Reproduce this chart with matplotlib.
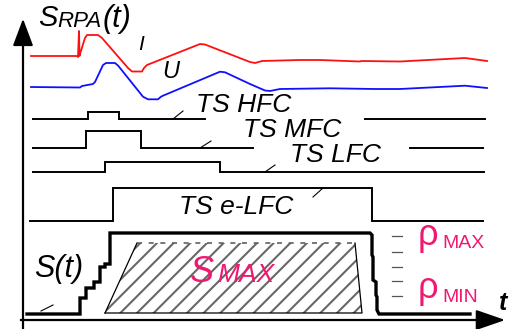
import matplotlib
matplotlib.use('Agg')
import matplotlib.pyplot as plt
from matplotlib.patches import Polygon

plt.rcParams['font.family'] = ['Liberation Sans', 'DejaVu Sans']
plt.rcParams['hatch.linewidth'] = 1.5

# schematic drawn in pixel units of the 518 x 329 picture
W, H = 518, 329

# current I and voltage U curves
i_x = [31, 77, 78, 79, 79.5, 80, 85, 87, 98, 102, 128, 132, 142, 144, 147, 200, 205,
       250, 255, 262, 300, 320, 360, 361, 400, 465, 487]
i_y = [56, 56, 57, 31, 56, 54, 38, 35, 35, 38, 68, 71.5, 71.5, 68, 65, 44, 44.5,
       62, 63, 61, 60, 60, 61.5, 61, 61.5, 58, 61]
u_x = [31, 80, 82, 93, 95, 103, 106, 115, 118, 143, 148, 158, 161, 163, 220, 225,
       250, 265, 270, 280, 330, 375, 400, 465, 487]
u_y = [87, 87.5, 86, 84, 82, 65, 63, 63, 65.5, 96.7, 99.3, 99.3, 96.7, 95.7, 71.7, 72.3,
       84, 90.5, 91, 89, 88.3, 89, 89, 85.7, 88]

# time slots: start, rise, fall, end of the left piece; low / high level; right piece
hfc_edges = [33, 88, 119, 205]
hfc_levels = [119, 112]
hfc_tail = [365, 485]
mfc_edges = [33, 86, 141, 253]
mfc_levels = [148, 131]
mfc_tail = [410, 483]
lfc_edges = [33, 105, 220, 484]
lfc_levels = [172, 162]
elfc_edges = [30, 113, 372, 483]
elfc_levels = [221, 188]

# S(t) staircase
st_x = [27, 80, 80, 86, 86, 94, 94, 100, 100, 105, 105, 110, 110, 370, 372, 372,
        373, 373, 376, 376, 377, 377, 379, 470]
st_y = [314, 314, 298, 298, 288, 288, 282, 282, 267, 267, 264, 264, 233, 233, 235, 255,
        257, 280, 282, 295, 297, 310, 314, 314]

# S_MAX trapezoid
smax_x = [105, 137, 355, 362]
smax_y = [313, 243, 243, 313]

# rho level ticks
rho_ticks = [236, 252, 267, 281, 296]

pink = '#F01870'

fig = plt.figure(figsize=(W / 100, H / 100), dpi=100)
ax = fig.add_axes([0, 0, 1, 1])
ax.set_xlim(0, W)
ax.set_ylim(H, 0)
ax.axis('off')


def slot(edges, levels, tail=None, lw=1.4):
    a, b, c, d = edges
    lo, hi = levels
    ax.plot([a, b, b, c, c, d], [lo, lo, hi, hi, lo, lo], color='black', lw=lw,
            solid_joinstyle='miter')
    if tail:
        ax.plot(tail, [lo, lo], color='black', lw=lw)


# axes with arrows
ax.plot([23, 23], [329, 30], color='black', lw=1.6)
ax.annotate('', xy=(23, 16), xytext=(23, 34),
            arrowprops=dict(arrowstyle='-|>,head_length=1.2,head_width=0.45',
                            color='black', lw=1.5, mutation_scale=14))
ax.plot([21, 492], [320, 320], color='black', lw=1.6)
ax.annotate('', xy=(508, 320), xytext=(488, 320),
            arrowprops=dict(arrowstyle='-|>,head_length=1.3,head_width=0.45',
                            color='black', lw=1.5, mutation_scale=14))

ax.plot(i_x, i_y, color='#FF1010', lw=1.3)
ax.plot(u_x, u_y, color='#1010FF', lw=1.3)

slot(hfc_edges, hfc_levels, hfc_tail)
slot(mfc_edges, mfc_levels, mfc_tail)
slot(lfc_edges, lfc_levels)
slot(elfc_edges, elfc_levels)

# hatched S_MAX region
pts = list(zip(smax_x, smax_y))
ax.add_patch(Polygon(pts, closed=True, facecolor='white', edgecolor='#686868',
                     lw=0, hatch='//'))
ax.plot([smax_x[0], smax_x[1]], [smax_y[0], smax_y[1]], color='black', lw=0.9)
ax.plot([smax_x[2], smax_x[3], smax_x[0]], [smax_y[2], smax_y[3], smax_y[0]],
        color='black', lw=0.9)
ax.plot([smax_x[1], smax_x[2]], [smax_y[1], smax_y[2]], color='#606060', lw=1.2,
        ls=(0, (3, 4)))

ax.plot(st_x, st_y, color='black', lw=2.4, solid_joinstyle='miter')

for y in rho_ticks:
    ax.plot([392, 402], [y, y], color='#555555', lw=0.9)

# leader strokes
for x0, y0, x1, y1 in [(173, 119, 183, 111), (200, 148, 211, 141), (265, 172, 275, 165),
                       (313, 197, 323, 188), (41, 311, 53, 305)]:
    ax.plot([x0, x1], [y0, y1], color='black', lw=0.8)

it = dict(style='italic', color='black')
ax.text(38, 26, 'S', fontsize=21, va='baseline', **it)
ax.text(57, 27, 'RPA', fontsize=16, va='baseline', **it)
ax.text(103, 27, '(t)', fontsize=22, va='baseline', **it)
ax.text(141, 44, 'I', fontsize=15, ha='center', va='center', **it)
ax.text(171, 72, 'U', fontsize=17, ha='center', va='center', **it)

ax.text(244, 105, 'TS HFC', fontsize=19, ha='center', va='center', **it)
ax.text(292, 130, 'TS MFC', fontsize=19, ha='center', va='center', **it)
ax.text(335, 155, 'TS LFC', fontsize=19, ha='center', va='center', **it)
ax.text(236, 207, 'TS e-LFC', fontsize=19, ha='center', va='center', **it)
ax.text(59, 269, 'S(t)', fontsize=22, ha='center', va='center', **it)

ax.text(190, 282, 'S', fontsize=26, color=pink, style='italic', va='baseline')
ax.text(217, 282, 'MAX', fontsize=19, color=pink, style='italic', va='baseline')

ax.text(418, 245, 'ρ', fontsize=26, color=pink, va='baseline')
ax.text(442, 248, 'MAX', fontsize=14, color=pink, va='baseline')
ax.text(418, 298, 'ρ', fontsize=26, color=pink, va='baseline')
ax.text(442, 302, 'MIN', fontsize=14, color=pink, va='baseline')

ax.text(503, 310, 't', fontsize=18, style='italic', weight='bold', ha='center',
        va='baseline')

fig.savefig('out.png', dpi=100)
